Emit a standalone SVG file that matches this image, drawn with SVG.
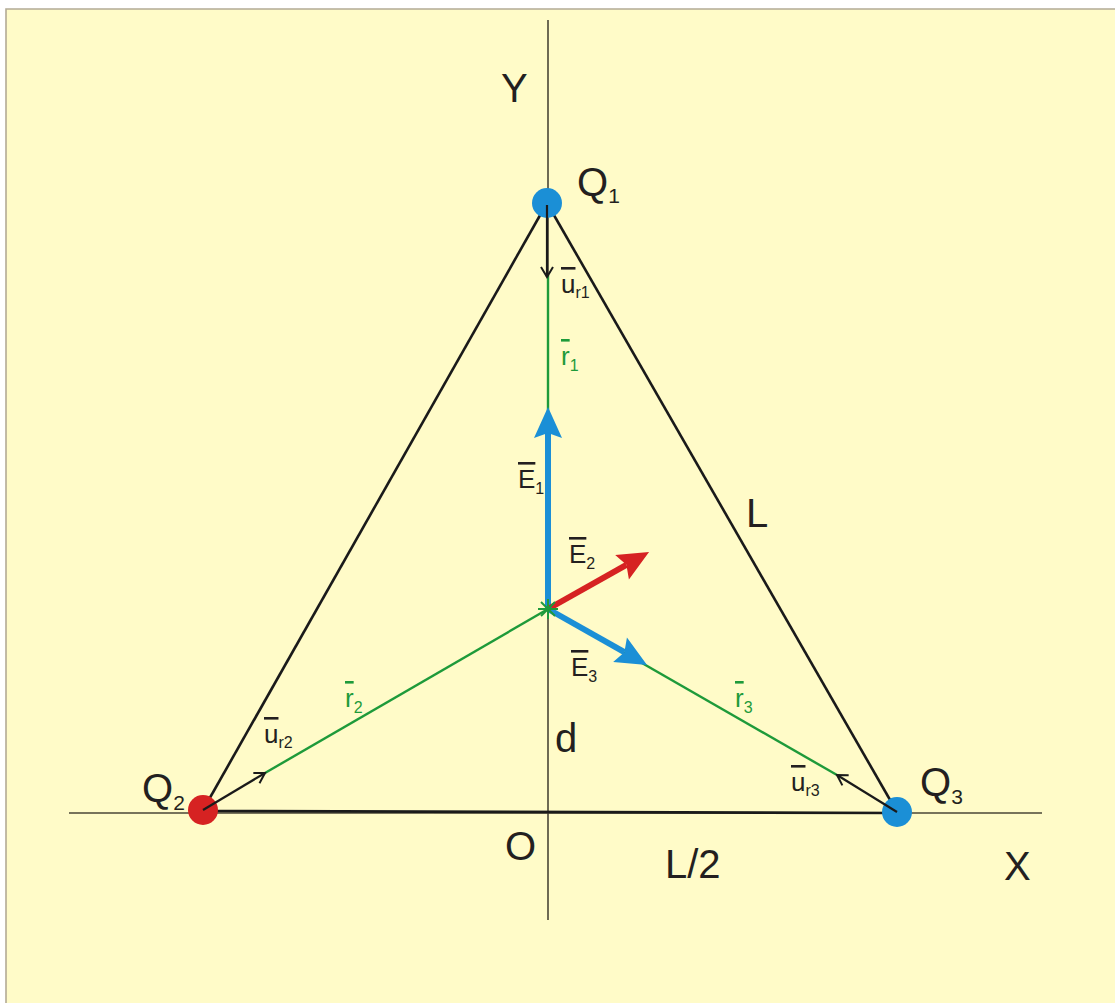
<svg xmlns="http://www.w3.org/2000/svg" width="1115" height="1003" viewBox="0 0 1115 1003">
<defs>
<style>
text{font-family:"Liberation Sans",Arial,sans-serif;fill:#231f20}
.big{font-size:40px}
.sm{font-size:26px}
.sub{font-size:16px}
.bsub{font-size:21px}
.g{fill:#1e9a3a}
.axis{stroke:#4a4636;stroke-width:1.6;fill:none}
.tri{stroke:#1a1a1a;stroke-width:2.6;fill:none}
.grn{stroke:#1e9a3a;stroke-width:2.4;fill:none}
.u{stroke:#1a1a1a;stroke-width:2.2;fill:none}
.eb{stroke:#1b8fd6;stroke-width:6;fill:none}
.er{stroke:#d62222;stroke-width:6;fill:none}
</style>
<marker id="hb" markerUnits="userSpaceOnUse" orient="auto" refX="5" refY="0" markerWidth="32" markerHeight="30" overflow="visible"><path d="M31,0 L0,-14 L5,0 L0,14 Z" fill="#1b8fd6"/></marker>
<marker id="hr" markerUnits="userSpaceOnUse" orient="auto" refX="5" refY="0" markerWidth="32" markerHeight="30" overflow="visible"><path d="M31,0 L0,-14 L5,0 L0,14 Z" fill="#d62222"/></marker>
<marker id="ho" markerUnits="userSpaceOnUse" orient="auto" refX="0" refY="0" markerWidth="12" markerHeight="14" overflow="visible"><path d="M-10,-6 L0,0 L-10,6" fill="none" stroke="#1a1a1a" stroke-width="2"/></marker>
</defs>
<rect width="1115" height="1003" fill="#ffffff"/>
<rect x="6" y="9" width="1109" height="994" fill="#fffbc8"/>
<path d="M6,1003 V9 H1115" fill="none" stroke="#b3ab95" stroke-width="1.6"/>

<g id="axes">
<line class="axis" x1="548" y1="20" x2="548" y2="920"/>
<line class="axis" x1="69" y1="813" x2="1042" y2="813"/>
</g>

<g id="connectors">
<line class="tri" x1="547" y1="203" x2="203" y2="810"/>
<line class="tri" x1="547" y1="203" x2="897" y2="812"/>
<line class="tri" x1="203" y1="811" x2="897" y2="813"/>
</g>

<g id="Q1"><circle cx="547" cy="203" r="15" fill="#1b8fd6"/><text class="big" x="577" y="196">Q<tspan class="bsub" dy="7">1</tspan></text></g>
<g id="Q2"><circle cx="203" cy="810" r="15" fill="#d62222"/><text class="big" x="142" y="802">Q<tspan class="bsub" dy="8">2</tspan></text></g>
<g id="Q3"><circle cx="897" cy="812" r="15" fill="#1b8fd6"/><text class="big" x="920" y="796">Q<tspan class="bsub" dy="8">3</tspan></text></g>

<g id="vectors">
<line class="grn" x1="548" y1="275" x2="548" y2="433"/>
<line class="grn" x1="265" y1="773" x2="548" y2="609"/>
<line class="grn" x1="837" y1="775" x2="548" y2="609"/>
<line class="u" x1="547" y1="205" x2="547" y2="277" marker-end="url(#ho)"/>
<line class="u" x1="203" y1="810" x2="265" y2="773" marker-end="url(#ho)"/>
<line class="u" x1="897" y1="812" x2="837" y2="775" marker-end="url(#ho)"/>
<line class="eb" x1="548" y1="609" x2="548" y2="433" marker-end="url(#hb)"/>
<line class="er" x1="548" y1="609" x2="626.4" y2="564.8" marker-end="url(#hr)"/>
<line class="eb" x1="548" y1="609" x2="624.4" y2="652.2" marker-end="url(#hb)"/>
<g stroke="#1e9a3a" stroke-width="2">
<line x1="538" y1="609" x2="558" y2="609"/>
<line x1="548" y1="599" x2="548" y2="619"/>
<line x1="541" y1="602" x2="555" y2="616"/>
<line x1="555" y1="602" x2="541" y2="616"/>
</g>
</g>

<g id="labels">
<text class="big" x="501" y="102">Y</text>
<text class="big" x="746" y="527">L</text>
<text class="big" x="555" y="752">d</text>
<text class="big" x="505" y="860">O</text>
<text class="big" x="665" y="878">L/2</text>
<text class="big" x="1004" y="880">X</text>
<text class="sm" x="561" y="293"><tspan text-decoration="overline">u</tspan><tspan class="sub" dy="5">r1</tspan></text>
<text class="sm" x="264" y="743"><tspan text-decoration="overline">u</tspan><tspan class="sub" dy="5">r2</tspan></text>
<text class="sm" x="791" y="791"><tspan text-decoration="overline">u</tspan><tspan class="sub" dy="5">r3</tspan></text>
<text class="sm g" x="561" y="365"><tspan text-decoration="overline">r</tspan><tspan class="sub g" dy="6">1</tspan></text>
<text class="sm g" x="345" y="707"><tspan text-decoration="overline">r</tspan><tspan class="sub g" dy="6">2</tspan></text>
<text class="sm g" x="735" y="707"><tspan text-decoration="overline">r</tspan><tspan class="sub g" dy="6">3</tspan></text>
<text class="sm" x="518" y="488"><tspan text-decoration="overline">E</tspan><tspan class="sub" dy="6">1</tspan></text>
<text class="sm" x="569" y="563"><tspan text-decoration="overline">E</tspan><tspan class="sub" dy="6">2</tspan></text>
<text class="sm" x="571" y="676"><tspan text-decoration="overline">E</tspan><tspan class="sub" dy="6">3</tspan></text>
</g>
</svg>
